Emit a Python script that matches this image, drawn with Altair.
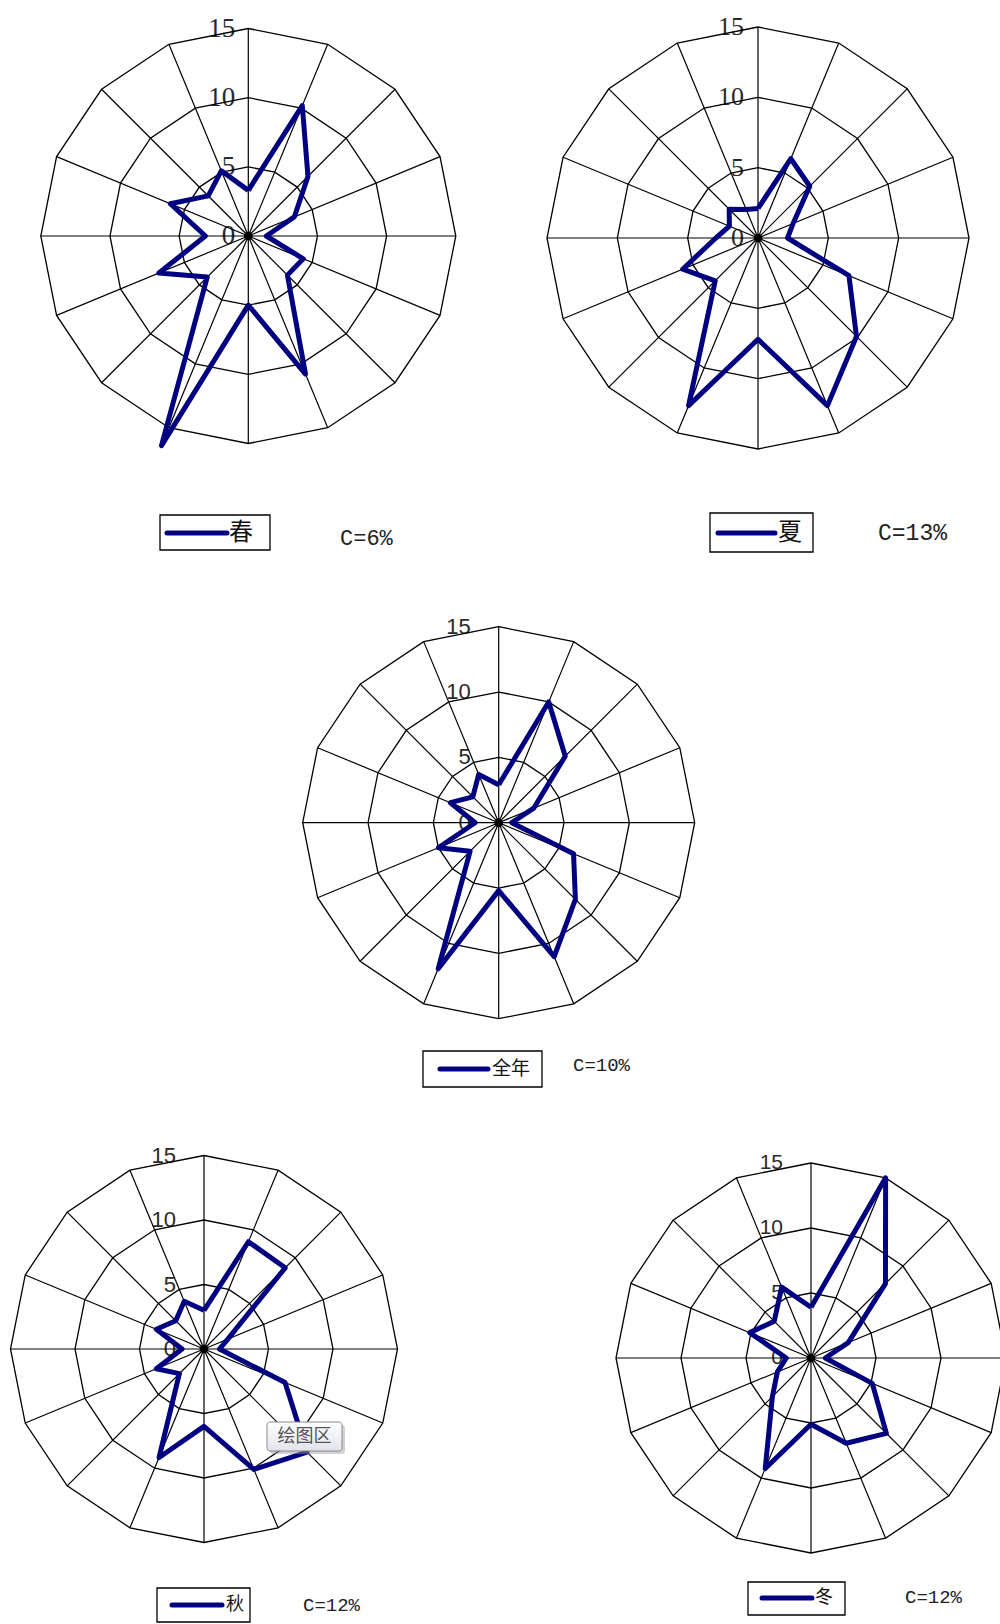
import altair as alt
import pandas as pd

# Wind frequency (%) per compass sector, clockwise from north
DIRECTIONS = ["N", "NNE", "NE", "ENE", "E", "ESE", "SE", "SSE",
              "S", "SSW", "SW", "WSW", "W", "WNW", "NW", "NNW"]

spring = [3.3, 10.2, 6.1, 3.6, 1.3, 4.3, 4.0, 10.8, 5.0, 16.4, 4.2, 7.0, 3.1, 6.1, 4.1, 5.1]
summer = [2.1, 6.1, 5.2, 2.7, 2.1, 7.0, 9.9, 12.9, 7.2, 12.9, 4.3, 5.8, 3.0, 2.2, 2.9, 2.2]
annual = [2.9, 10.0, 7.2, 2.9, 1.0, 6.2, 8.3, 11.1, 5.2, 12.1, 3.1, 5.0, 1.8, 4.0, 2.8, 4.0]
autumn = [3.0, 9.0, 8.9, 2.0, 1.2, 6.8, 11.3, 10.1, 6.0, 9.1, 2.7, 4.0, 1.7, 4.0, 3.1, 4.0]
winter = [3.9, 15.0, 8.1, 3.1, 1.1, 5.1, 8.2, 7.1, 5.1, 9.2, 4.2, 2.8, 1.9, 5.1, 4.0, 5.9]

season_labels = ["春", "夏", "全年", "秋", "冬"]
calm_labels = ["C=6%", "C=13%", "C=10%", "C=12%", "C=12%"]
ring_levels = [5, 10, 15]
tick_labels = ["0", "5", "10", "15"]
AXIS_MAX = 15

NAVY = "#000080"
GRID = "#000000"

# Page layout of the five roses (pixels): centre, outer radius, fonts, legend boxes
LAYOUT = [
    dict(cx=248.3, cy=236.0, radius=207.5, tick_font="Liberation Serif", tick_size=27, tick_dx=-13,
         box=(160, 515, 270, 550), swatch=(167, 227, 533), key=(229, 533, 24), calm=(340, 538, 22)),
    dict(cx=758.0, cy=238.0, radius=211.0, tick_font="Liberation Serif", tick_size=26, tick_dx=-14,
         box=(710, 513, 813, 552), swatch=(718, 775, 533), key=(778, 533, 24), calm=(878, 533, 23)),
    dict(cx=498.7, cy=822.7, radius=196.0, tick_font="Liberation Sans", tick_size=22, tick_dx=-28,
         box=(423, 1051, 542, 1087), swatch=(440, 488, 1069), key=(492, 1069, 19), calm=(573, 1065, 19)),
    dict(cx=204.0, cy=1349.0, radius=193.5, tick_font="Liberation Sans", tick_size=22, tick_dx=-28,
         box=(157, 1588, 250, 1622), swatch=(172, 222, 1605), key=(226, 1605, 18), calm=(303, 1605, 19)),
    dict(cx=811.0, cy=1358.0, radius=195.0, tick_font="Liberation Sans", tick_size=21, tick_dx=-28,
         box=(748, 1582, 845, 1615), swatch=(762, 812, 1598), key=(815, 1598, 18), calm=(905, 1597, 19)),
]
SERIES = [spring, summer, annual, autumn, winter]

W, H = 1000, 1624
xs = alt.Scale(domain=[0, W], nice=False, zero=False)
ys = alt.Scale(domain=[0, H], nice=False, zero=False, reverse=True)

PX = "datum.cx + datum.value * datum.k * sin(datum.i * PI / 8)"
PY = "datum.cy - datum.value * datum.k * cos(datum.i * PI / 8)"


def geo(p):
    lay = LAYOUT[p]
    return dict(panel=p, cx=lay["cx"], cy=lay["cy"], k=lay["radius"] / AXIS_MAX)


rose_rows, ring_rows, spoke_rows, tick_rows = [], [], [], []
legend_rows, swatch_rows, key_rows, calm_rows, centre_rows = [], [], [], [], []
for p, values in enumerate(SERIES):
    g = geo(p)
    lay = LAYOUT[p]
    for i in range(len(DIRECTIONS) + 1):
        rose_rows.append(dict(g, i=i, value=values[i % 16], direction=DIRECTIONS[i % 16]))
    for level in ring_levels:
        for i in range(17):
            ring_rows.append(dict(g, ring=f"{p}-{level}", i=i, value=level))
    for i in range(16):
        spoke_rows.append(dict(g, i=i, value=AXIS_MAX))
    for lab in tick_labels:
        tick_rows.append(dict(g, i=0, value=float(lab), label=lab, dx=lay["tick_dx"]))
    centre_rows.append(dict(g))
    bx0, by0, bx1, by1 = lay["box"]
    legend_rows.append(dict(panel=p, x0=bx0, y0=by0, x1=bx1, y1=by1))
    sx0, sx1, sy = lay["swatch"]
    swatch_rows.append(dict(panel=p, x0=sx0, x1=sx1, y=sy))
    kx, ky, ks = lay["key"]
    key_rows.append(dict(panel=p, x=kx, y=ky, size=ks, label=season_labels[p]))
    cx_, cy_, cs = lay["calm"]
    calm_rows.append(dict(panel=p, x=cx_, y=cy_, size=cs, label=calm_labels[p]))

rose_df = pd.DataFrame(rose_rows)
ring_df = pd.DataFrame(ring_rows)
spoke_df = pd.DataFrame(spoke_rows)
tick_df = pd.DataFrame(tick_rows)
centre_df = pd.DataFrame(centre_rows)
legend_df = pd.DataFrame(legend_rows)
swatch_df = pd.DataFrame(swatch_rows)
key_df = pd.DataFrame(key_rows)
calm_df = pd.DataFrame(calm_rows)

X = lambda f: alt.X(f, scale=xs, axis=None)
Y = lambda f: alt.Y(f, scale=ys, axis=None)

layers = []

# legend frames
layers.append(
    alt.Chart(legend_df).mark_rect(fill="white", stroke="#000", strokeWidth=1.3)
    .encode(x=X("x0:Q"), x2="x1:Q", y=Y("y0:Q"), y2="y1:Q")
)

# axis tick labels on the north spoke
for p, lay in enumerate(LAYOUT):
    layers.append(
        alt.Chart(tick_df[tick_df.panel == p])
        .transform_calculate(tx="datum.cx + datum.dx", py=PY)
        .mark_text(align="right", baseline="middle", font=lay["tick_font"],
                   fontSize=lay["tick_size"], color="#2a2a2a")
        .encode(x=X("tx:Q"), y=Y("py:Q"), text="label:N")
    )

# polygonal rings
layers.append(
    alt.Chart(ring_df).transform_calculate(px=PX, py=PY)
    .mark_line(stroke=GRID, strokeWidth=1.3)
    .encode(x=X("px:Q"), y=Y("py:Q"), detail="ring:N", order="i:Q")
)

# sector spokes
layers.append(
    alt.Chart(spoke_df).transform_calculate(px=PX, py=PY)
    .mark_rule(stroke=GRID, strokeWidth=1.2)
    .encode(x=X("cx:Q"), y=Y("cy:Q"), x2="px:Q", y2="py:Q")
)

# wind rose outlines
layers.append(
    alt.Chart(rose_df).transform_calculate(px=PX, py=PY)
    .mark_line(stroke=NAVY, strokeWidth=5, strokeJoin="round")
    .encode(x=X("px:Q"), y=Y("py:Q"), detail="panel:N", order="i:Q")
)

# centre markers
layers.append(
    alt.Chart(centre_df).mark_circle(color="black", size=75, opacity=1)
    .encode(x=X("cx:Q"), y=Y("cy:Q"))
)

# legend swatches, series names and calm frequencies
layers.append(
    alt.Chart(swatch_df).mark_rule(stroke=NAVY, strokeWidth=5, strokeCap="round")
    .encode(x=X("x0:Q"), x2="x1:Q", y=Y("y:Q"))
)
for p in range(len(LAYOUT)):
    k = key_df[key_df.panel == p]
    layers.append(
        alt.Chart(k).mark_text(align="left", baseline="middle", font="Noto Sans CJK SC",
                               fontSize=int(k["size"].iloc[0]), color="#111")
        .encode(x=X("x:Q"), y=Y("y:Q"), text="label:N")
    )
    c = calm_df[calm_df.panel == p]
    layers.append(
        alt.Chart(c).mark_text(align="left", baseline="middle", font="Liberation Mono",
                               fontSize=int(c["size"].iloc[0]), color="#222")
        .encode(x=X("x:Q"), y=Y("y:Q"), text="label:N")
    )

# hover hint box over the autumn rose
hint_df = pd.DataFrame([dict(x0=267, y0=1422, x1=342, y1=1451, tx=304.5, ty=1437, label="绘图区")])
layers.append(
    alt.Chart(hint_df).transform_calculate(sx0="datum.x0 + 3", sx1="datum.x1 + 3",
                                           sy0="datum.y0 + 3", sy1="datum.y1 + 3")
    .mark_rect(fill="#9a9a9a", opacity=0.45, cornerRadius=3)
    .encode(x=X("sx0:Q"), x2="sx1:Q", y=Y("sy0:Q"), y2="sy1:Q")
)
layers.append(
    alt.Chart(hint_df).mark_rect(
        fill=alt.Gradient(gradient="linear", x1=0, y1=0, x2=0, y2=1,
                          stops=[alt.GradientStop(color="#ffffff", offset=0),
                                 alt.GradientStop(color="#e2e4ea", offset=1)]),
        stroke="#8a8a8a", strokeWidth=1, cornerRadius=3)
    .encode(x=X("x0:Q"), x2="x1:Q", y=Y("y0:Q"), y2="y1:Q")
)
layers.append(
    alt.Chart(hint_df).mark_text(align="center", baseline="middle", font="Noto Sans CJK SC",
                                 fontSize=18, color="#555")
    .encode(x=X("tx:Q"), y=Y("ty:Q"), text="label:N")
)

chart = (
    alt.layer(*layers)
    .properties(width=W, height=H, autosize=alt.AutoSizeParams(type="none"), padding=0,
                background="white")
    .configure_view(stroke=None)
)

chart.save("out.html", embed_options={"renderer": "svg", "actions": False})
